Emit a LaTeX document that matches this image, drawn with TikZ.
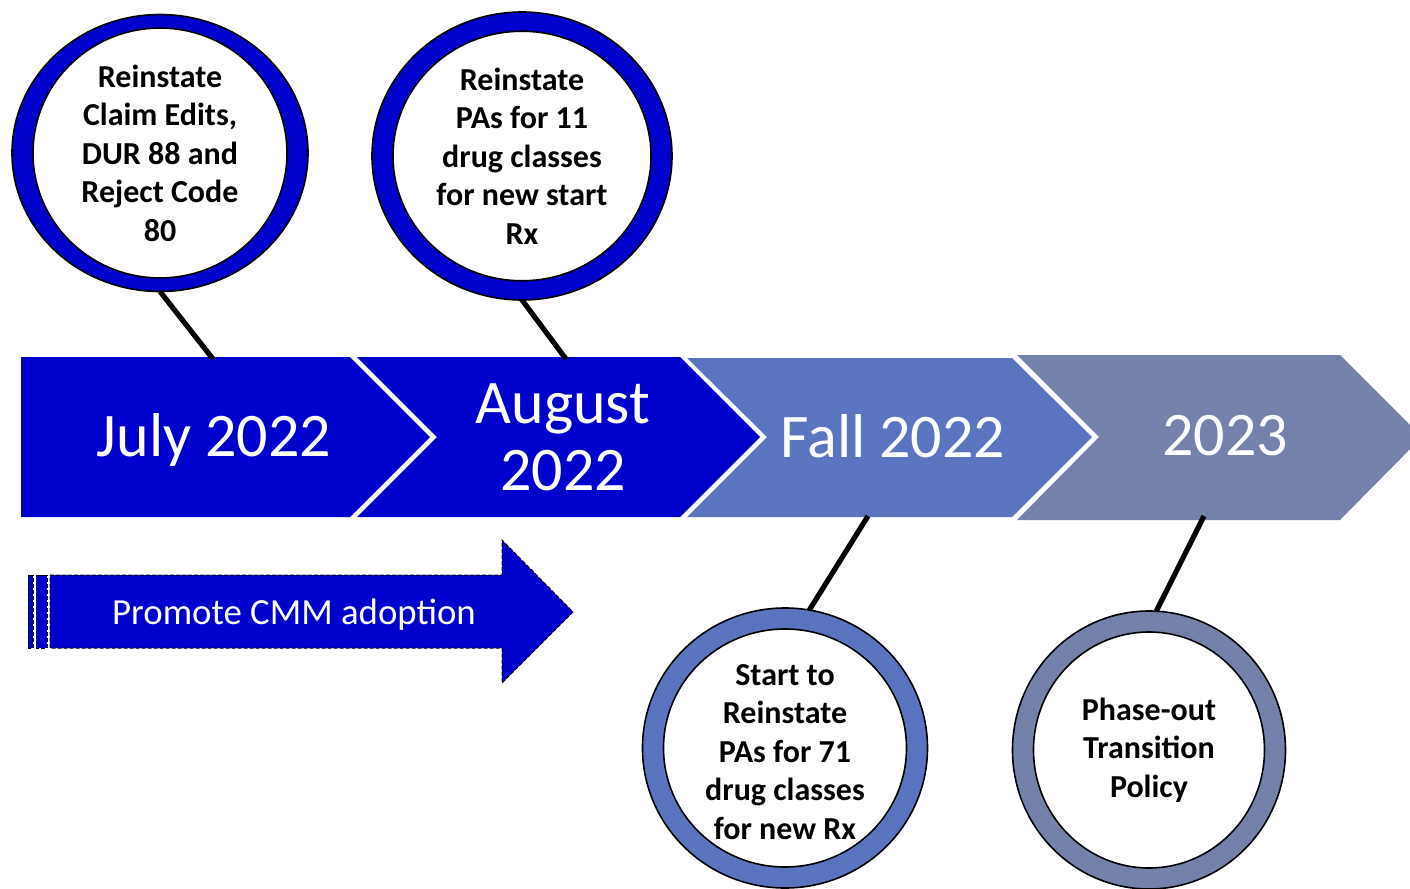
\documentclass[tikz,border=0pt]{standalone}
\usepackage{fontspec}
\setmainfont{Carlito}
\usetikzlibrary{shapes.geometric}
\definecolor{deepblue}{HTML}{0000CC}
\definecolor{fallblue}{HTML}{5B74C0}
\definecolor{greyblue}{HTML}{7481AA}
\begin{document}
\begin{tikzpicture}[x=0.5pt,y=-0.5pt]
\tikzstyle{period} = [text=white, align=center, font=\fontsize{31}{33.5}\selectfont]
\tikzstyle{ring} = [ellipse, draw=black, line width=0.8pt, inner sep=0pt, outer sep=0pt]
\tikzstyle{milestone} = [ellipse, fill=white, draw=black, line width=0.8pt, inner sep=0pt, align=center, font=\fontsize{16}{19.25}\selectfont\bfseries]
\tikzstyle{stem} = [line width=2.6pt, draw=black]
\tikzstyle{promote} = [fill=deepblue, draw=black, line width=0.5pt, dash pattern=on 2pt off 1pt]
%
\useasboundingbox (0,0) rectangle (1410,889);
\clip (0,0) rectangle (1410,889);
%
\fill [deepblue] (21,357) -- (350,357) -- (430,437) -- (350,517) -- (21,517) -- cycle;
\fill [deepblue] (357,357) -- (680,357) -- (760,437) -- (680,517) -- (357,517) -- (437,437) -- cycle;
\fill [fallblue] (687,358) -- (1012,358) -- (1092,437) -- (1012,517) -- (687,517) -- (767,437) -- cycle;
\fill [greyblue] (1017,355) -- (1340,355) -- (1422,437) -- (1340,520) -- (1017,520) -- (1099,437) -- cycle;
%
\node (july)   [period] at (214,440) {July 2022};
\node (august) [period] at (563,437) {August\\2022};
\node (fall)   [period] at (893,436) {Fall 2022};
\node (year)   [period] at (1225,436) {2023};
%
\coordinate (t1) at (213,359);
\coordinate (t2) at (566,359);
\coordinate (t3) at (868,516);
\coordinate (t4) at (1204,516);
%
\node (c1) [ring, fill=deepblue, minimum width=148pt, minimum height=138.5pt] at (160,153) {};
\node (m1) [milestone, minimum width=127pt, minimum height=117.5pt] at (c1.center) {Reinstate\\Claim Edits,\\DUR 88 and\\Reject Code\\80};
\node (c2) [ring, fill=deepblue, minimum width=150pt, minimum height=144pt] at (522,156) {};
\node (m2) [milestone, minimum width=129pt, minimum height=123pt] at (c2.center) {Reinstate\\PAs for 11\\drug classes\\for new start\\Rx};
\node (c3) [ring, fill=fallblue, minimum width=142.5pt, minimum height=140pt] at (785,748) {};
\node (m3) [milestone, minimum width=121.5pt, minimum height=119pt] at (c3.center) {};
\node (t3text) [font=\fontsize{16}{19.25}\selectfont\bfseries, align=center] at (785,752) {Start to\\Reinstate\\PAs for 71\\drug classes\\for new Rx};
\node (c4) [ring, fill=greyblue, minimum width=136.5pt, minimum height=139pt] at (1149,750) {};
\node (m4) [milestone, minimum width=115.5pt, minimum height=118pt] at (c4.center) {Phase-out\\Transition\\Policy};
%
\draw [stem] (c1.south) -- (t1);
\draw [stem] (c2.south) -- (t2);
\draw [stem] (t3) -- (c3.80);
\draw [stem] (t4) -- (c4.87);
%
\draw [promote] (28,575) rectangle (33,648);
\draw [promote] (36,575) rectangle (47,648);
\draw [promote] (50,575) -- (502,575) -- (502,540) -- (573,612) -- (502,683) -- (502,648) -- (50,648) -- cycle;
\node (cmm) [text=white, font=\fontsize{18.4}{21}\selectfont] at (294,615) {Promote CMM adoption};
\end{tikzpicture}
\end{document}
